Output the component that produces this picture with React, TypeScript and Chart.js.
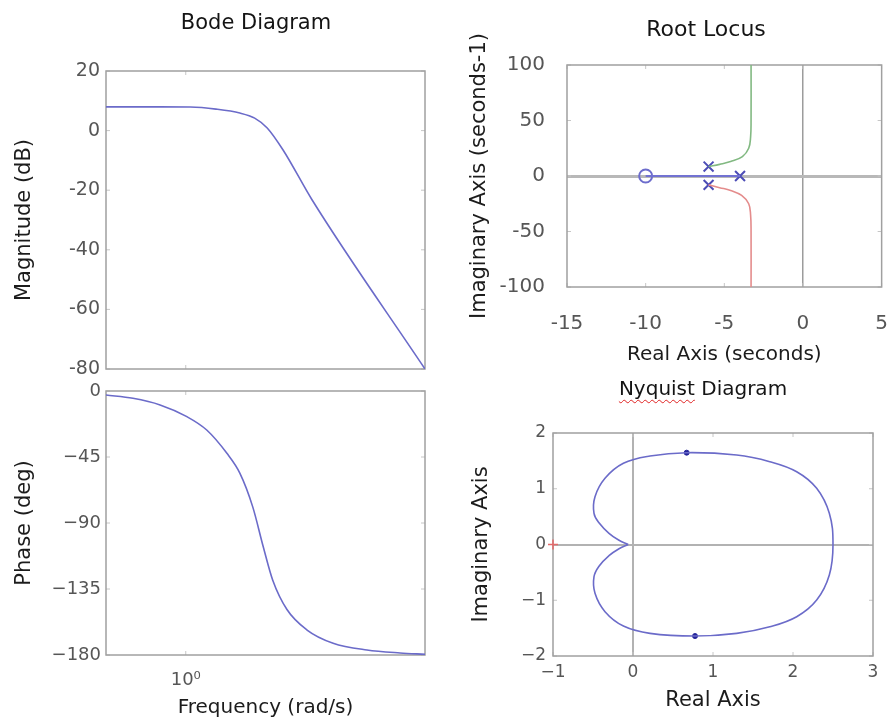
import React, { useEffect, useRef } from 'react';
import { Chart, registerables } from 'chart.js';

Chart.register(...registerables);

const FONT = 'DejaVu Sans';
const CW = 891;
const CH = 721;

// ---------- Bode diagram ----------
const freqRange = [0.5, 8];
const freqTicks = [1];
const freqTickLabels = ['10\u2070'];

const magFreq = [0.5, 0.8, 1.04, 1.3, 1.6, 1.82, 2.03, 2.33, 3.0, 8.0];
const magDb = [7.96, 7.96, 7.9, 7.2, 5.9, 4.2, 0.9, -6.5, -23.3, -80];
const magTicks = [-80, -60, -40, -20, 0, 20];

const phaseFreq = [0.5, 0.632, 0.8, 1.01, 1.2, 1.43, 1.6, 1.79, 1.96, 2.13, 2.41, 2.87, 3.6, 4.83, 6.44, 8.0];
const phaseDeg = [-2.7, -5, -9.5, -17.5, -26.6, -42.5, -56, -79, -106, -129, -149, -163, -172, -176.6, -178.6, -179.5];
const phaseTicks = [-180, -135, -90, -45, 0];

// ---------- Root locus ----------
const rlReTicks = [-15, -10, -5, 0, 5];
const rlImTicks = [-100, -50, 0, 50, 100];
const rlPoleRe = [-6, -6, -4];
const rlPoleIm = [8.5, -8, 0];
const rlZeroRe = [-10];
const rlZeroIm = [0];
const realBranchRe = [-4, -10];
const realBranchIm = [0, 0];
const upperBranchRe = [-6, -5.3, -4.6, -3.85, -3.45, -3.33, -3.3, -3.3];
const upperBranchIm = [8.5, 10.5, 13, 17.5, 25, 35, 50, 100];
const lowerBranchRe = [-6, -5.3, -4.6, -3.9, -3.45, -3.33, -3.3, -3.3];
const lowerBranchIm = [-8, -10.5, -13, -17.5, -25, -35, -50, -100];

// ---------- Nyquist ----------
const nyReTicks = [-1, 0, 1, 2, 3];
const nyImTicks = [-2, -1, 0, 1, 2];
const nyRe = [-0.06, -0.18, -0.3, -0.42, -0.4875, -0.475, -0.35, -0.12, 0.2125, 0.671, 1.296, 1.71, 2.046, 2.296, 2.454, 2.5,
  2.454, 2.296, 2.046, 1.71, 1.296, 0.775, 0.2125, -0.12, -0.35, -0.475, -0.4875, -0.42, -0.3, -0.18, -0.06];
const nyIm = [0, 0.08, 0.2, 0.38, 0.559, 0.857, 1.187, 1.456, 1.587, 1.647, 1.605, 1.486, 1.306, 1.008, 0.559, 0,
  -0.547, -0.996, -1.295, -1.475, -1.594, -1.642, -1.594, -1.462, -1.205, -0.876, -0.578, -0.38, -0.2, -0.08, 0];
const nyArrowRe = [0.671, 0.775];
const nyArrowIm = [1.647, -1.642];
const nyCriticalRe = [-1];
const nyCriticalIm = [0];

const BLUE = '#6b6bc9';

const toPoints = (xs: number[], ys: number[]) => xs.map((x, i) => ({ x, y: ys[i] }));
const hyphen = (v: any) => String(v);
const minus = (v: any) => (Number(v) < 0 ? '\u2212' + Math.abs(Number(v)) : String(v));

const framePlugin = {
  id: 'matlabFrame',
  beforeDatasetsDraw(chart: any) {
    const { ctx, chartArea: a } = chart;
    const xs = chart.scales.x;
    const ys = chart.scales.y;
    ctx.save();
    ctx.strokeStyle = '#c6c6c6';
    ctx.lineWidth = 1;
    ctx.beginPath();
    xs.ticks.forEach((t: any) => {
      const px = xs.getPixelForValue(t.value);
      ctx.moveTo(px, a.bottom);
      ctx.lineTo(px, a.bottom - 4);
      ctx.moveTo(px, a.top);
      ctx.lineTo(px, a.top + 4);
    });
    ys.ticks.forEach((t: any) => {
      const py = ys.getPixelForValue(t.value);
      ctx.moveTo(a.left, py);
      ctx.lineTo(a.left + 4, py);
      ctx.moveTo(a.right, py);
      ctx.lineTo(a.right - 4, py);
    });
    ctx.stroke();
    ctx.strokeStyle = '#a0a0a0';
    ctx.lineWidth = 1.5;
    ctx.strokeRect(a.left, a.top, a.right - a.left, a.bottom - a.top);
    ctx.restore();
  },
};

function makeAxis(o: any) {
  return {
    type: o.type || 'linear',
    position: o.position,
    min: o.ticks[0],
    max: o.ticks[o.ticks.length - 1],
    ...(o.range ? { min: o.range[0], max: o.range[1] } : {}),
    afterBuildTicks: (s: any) => {
      s.ticks = o.ticks.map((v: number) => ({ value: v }));
    },
    afterFit: (s: any) => {
      if (o.position === 'left') s.width = o.size;
      else s.height = o.size;
    },
    ticks: {
      display: o.showTicks !== false,
      color: '#565656',
      font: { family: FONT, size: o.tickSize, lineHeight: o.tickLH || 1.2 },
      padding: o.tickPad,
      autoSkip: false,
      maxRotation: 0,
      minRotation: 0,
      callback: (v: any, i: number) => (o.labels ? o.labels[i] : o.fmt(v)),
    },
    grid: {
      display: !!o.zero,
      drawTicks: false,
      drawOnChartArea: true,
      color: (c: any) => (o.zero && c.tick && c.tick.value === 0 ? o.zero.color : 'rgba(0,0,0,0)'),
      lineWidth: (c: any) => (o.zero && c.tick && c.tick.value === 0 ? o.zero.width : 0),
    },
    border: { display: false },
    title: o.title
      ? { display: true, text: o.title, color: '#1c1c1c', font: { family: FONT, size: o.titleSize }, padding: o.titlePad }
      : { display: false },
  };
}

const common = {
  animation: false,
  responsive: false,
  devicePixelRatio: 1,
  events: [],
  plugins: { legend: { display: false }, tooltip: { enabled: false }, title: { display: false } },
};

function magConfig(): any {
  return {
    type: 'line',
    data: {
      datasets: [
        { data: toPoints(magFreq, magDb), borderColor: BLUE, borderWidth: 1.6, pointRadius: 0, cubicInterpolationMode: 'monotone' },
      ],
    },
    options: {
      ...common,
      layout: { padding: { left: 6, top: 71, right: 466, bottom: 352 } },
      scales: {
        x: makeAxis({ type: 'logarithmic', position: 'bottom', range: freqRange, ticks: freqTicks, labels: freqTickLabels, size: 0, showTicks: false, tickSize: 18, tickPad: 0 }),
        y: makeAxis({ position: 'left', ticks: magTicks, size: 100, tickSize: 19, tickPad: 6, fmt: hyphen, title: 'Magnitude (dB)', titleSize: 21, titlePad: { top: 6, bottom: 0 } }),
      },
    },
    plugins: [framePlugin],
  };
}

function phaseConfig(): any {
  return {
    type: 'line',
    data: {
      datasets: [
        { data: toPoints(phaseFreq, phaseDeg), borderColor: BLUE, borderWidth: 1.6, pointRadius: 0, cubicInterpolationMode: 'monotone' },
      ],
    },
    options: {
      ...common,
      layout: { padding: { left: 6, top: 391, right: 466, bottom: 0 } },
      scales: {
        x: makeAxis({ type: 'logarithmic', position: 'bottom', range: freqRange, ticks: freqTicks, labels: freqTickLabels, size: 66, tickSize: 18, tickPad: 15, title: 'Frequency (rad/s)', titleSize: 20, titlePad: { top: 0, bottom: 1 } }),
        y: makeAxis({ position: 'left', ticks: phaseTicks, size: 100, tickSize: 18, tickPad: 5, fmt: minus, title: 'Phase (deg)', titleSize: 21, titlePad: { top: 6, bottom: 0 } }),
      },
    },
    plugins: [framePlugin],
  };
}

function rlConfig(): any {
  return {
    type: 'line',
    data: {
      datasets: [
        { data: toPoints(realBranchRe, realBranchIm), borderColor: '#7272d2', borderWidth: 2.2, pointRadius: 0 },
        { data: toPoints(upperBranchRe, upperBranchIm), borderColor: '#82b982', borderWidth: 1.6, pointRadius: 0, tension: 0.4 },
        { data: toPoints(lowerBranchRe, lowerBranchIm), borderColor: '#e48c8c', borderWidth: 1.6, pointRadius: 0, tension: 0.4 },
        { data: toPoints(rlPoleRe, rlPoleIm), showLine: false, pointStyle: 'crossRot', pointRadius: 7, pointBorderColor: '#4c4cb6', pointBorderWidth: 2, pointBackgroundColor: 'rgba(0,0,0,0)' },
        { data: toPoints(rlZeroRe, rlZeroIm), showLine: false, pointStyle: 'circle', pointRadius: 6.5, pointBorderColor: '#6d6dcc', pointBorderWidth: 2, pointBackgroundColor: 'rgba(0,0,0,0)' },
      ],
    },
    options: {
      ...common,
      layout: { padding: { left: 460, top: 65, right: 5, bottom: 354 } },
      scales: {
        x: makeAxis({ position: 'bottom', ticks: rlReTicks, size: 80, tickSize: 20, tickLH: 3.4, tickPad: 3, fmt: hyphen, title: 'Real Axis (seconds)', titleSize: 20, titlePad: { top: 0, bottom: 0 }, zero: { color: '#9c9c9c', width: 1.5 } }),
        y: makeAxis({ position: 'left', ticks: rlImTicks, size: 107, tickSize: 20, tickPad: 22, fmt: hyphen, title: 'Imaginary Axis (seconds-1)', titleSize: 21, titlePad: { top: 7, bottom: 0 }, zero: { color: '#b8b8b8', width: 3 } }),
      },
    },
    plugins: [framePlugin],
  };
}

function nyConfig(): any {
  return {
    type: 'line',
    data: {
      datasets: [
        { data: toPoints(nyRe, nyIm), borderColor: BLUE, borderWidth: 1.6, pointRadius: 0, tension: 0.4 },
        { data: toPoints(nyArrowRe, nyArrowIm), showLine: false, pointStyle: 'circle', pointRadius: 2.5, pointBackgroundColor: '#24249a', pointBorderColor: '#24249a', pointBorderWidth: 1 },
        { data: toPoints(nyCriticalRe, nyCriticalIm), showLine: false, clip: false, pointStyle: 'cross', pointRadius: 5, pointBorderColor: '#e46a6a', pointBorderWidth: 1.5 },
      ],
    },
    options: {
      ...common,
      layout: { padding: { left: 462, top: 433, right: 18, bottom: 5 } },
      scales: {
        x: makeAxis({ position: 'bottom', ticks: nyReTicks, size: 60, tickSize: 17, tickPad: 6, fmt: minus, title: 'Real Axis', titleSize: 21, titlePad: { top: 0, bottom: 3 }, zero: { color: '#b2b2b2', width: 2 } }),
        y: makeAxis({ position: 'left', ticks: nyImTicks, size: 91, tickSize: 17, tickPad: 7, fmt: minus, title: 'Imaginary Axis', titleSize: 21, titlePad: { top: 7, bottom: 0 }, zero: { color: '#b2b2b2', width: 2 } }),
      },
    },
    plugins: [framePlugin],
  };
}

const canvasStyle: React.CSSProperties = { position: 'absolute', left: 0, top: 0 };

function Title({ x, y, size, children }: { x: number; y: number; size: number; children: React.ReactNode }) {
  return (
    <div
      style={{
        position: 'absolute',
        left: x,
        top: y,
        transform: 'translate(-50%, -50%)',
        whiteSpace: 'nowrap',
        fontFamily: FONT,
        fontSize: size,
        color: '#141414',
        lineHeight: 'normal',
      }}
    >
      {children}
    </div>
  );
}

export default function App() {
  const r1 = useRef<HTMLCanvasElement>(null);
  const r2 = useRef<HTMLCanvasElement>(null);
  const r3 = useRef<HTMLCanvasElement>(null);
  const r4 = useRef<HTMLCanvasElement>(null);

  useEffect(() => {
    const charts: Chart[] = [];
    const pairs: [React.RefObject<HTMLCanvasElement>, () => any][] = [
      [r1, magConfig],
      [r2, phaseConfig],
      [r3, rlConfig],
      [r4, nyConfig],
    ];
    pairs.forEach(([ref, cfg]) => {
      if (ref.current) charts.push(new Chart(ref.current, cfg()));
    });
    return () => charts.forEach((c) => c.destroy());
  }, []);

  return (
    <div style={{ position: 'fixed', left: 0, top: 0, width: CW, height: CH, background: '#ffffff', overflow: 'hidden' }}>
      <canvas ref={r1} width={CW} height={CH} style={canvasStyle} />
      <canvas ref={r2} width={CW} height={CH} style={canvasStyle} />
      <canvas ref={r3} width={CW} height={CH} style={canvasStyle} />
      <canvas ref={r4} width={CW} height={CH} style={canvasStyle} />
      <Title x={256} y={22} size={21}>Bode Diagram</Title>
      <Title x={706} y={28} size={22}>Root Locus</Title>
      <Title x={703} y={388} size={20}>
        <span style={{ textDecoration: 'underline wavy #e02424', textDecorationThickness: '1px', textUnderlineOffset: '4px' }}>Nyquist</span> Diagram
      </Title>
    </div>
  );
}
